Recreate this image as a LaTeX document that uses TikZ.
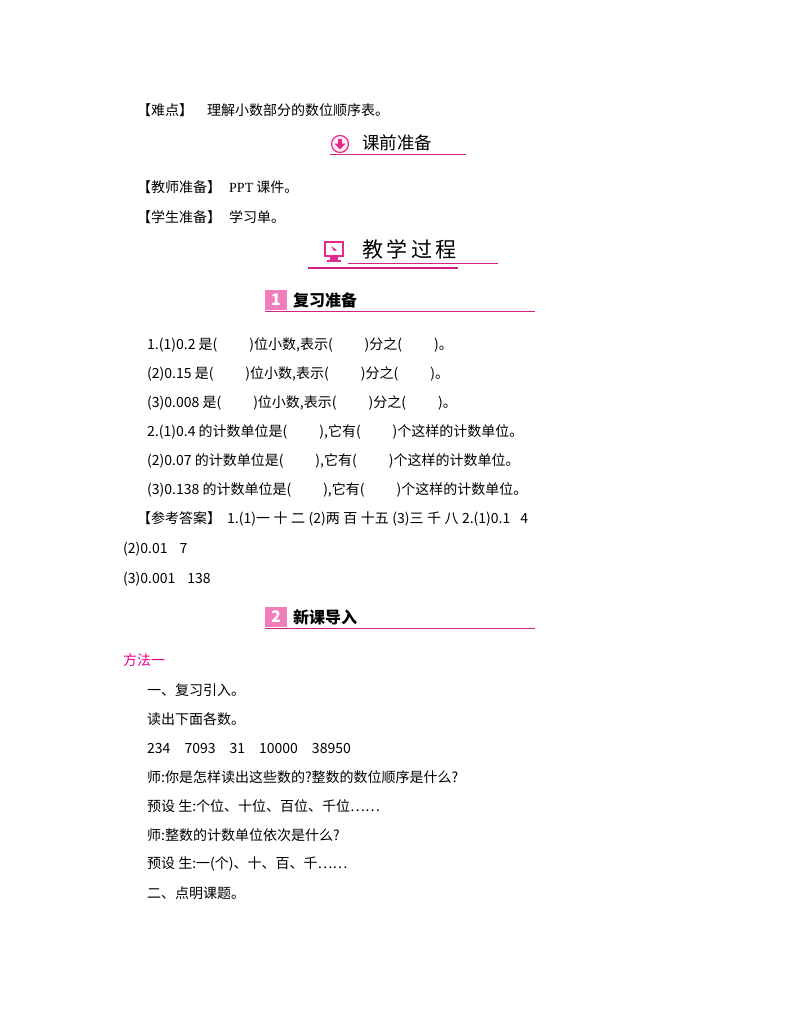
\documentclass[tikz,border=0pt]{standalone}
\usepackage{fontspec}
\setmainfont{Noto Sans CJK SC}
\newfontfamily\lat{Liberation Serif}
\begin{document}
\begin{tikzpicture}[x=1pt,y=-1pt,
  t/.style={anchor=west,inner sep=0pt,font=\fontsize{14}{16}\selectfont},
  hdr/.style={anchor=west,inner sep=0pt,font=\fontsize{17.5}{20}\selectfont},
  ul/.style={draw=magenta!70!violet,line width=1pt}]
\definecolor{pk}{RGB}{230,40,140}
\newcommand{\pp}{(\hspace{32pt})}
\newcommand{\sk}{\hspace{3.5pt}}
\useasboundingbox (0,0) rectangle (800,1028);
\node[t] (a0) at (137,110) {【难点】\hspace{14pt}理解小数部分的数位顺序表。};
% header 1
\node[draw=pk,line width=1.2pt,circle,minimum size=17pt,inner sep=0pt,fill=pink!30] (i1) at (340,144) {};
\node[fill=pk,inner sep=0pt,minimum width=4pt,minimum height=5pt] (i1a) at (340,141) {};
\fill[pk] (334.5,143.5) -- (345.5,143.5) -- (340,149.5) -- cycle;
\node[hdr] (h1) at (362,143) {课前准备};
\draw[ul] (330,154) -- (466,154);
\node[t] (b1) at (137,187) {【教师准备】\hspace{8pt}{\lat PPT} 课件。};
\node[t] (b2) at (137,217) {【学生准备】\hspace{8pt}学习单。};
% header 2
\draw[pk,line width=1.5pt,fill=white] (325,242) rectangle (343,256);
\fill[pk] (330,257) rectangle (338,260);
\fill[pk] (327,260) rectangle (341,262);
\fill[pk] (331,246) -- (337,250) -- (334,251) -- cycle;
\node[anchor=west,inner sep=0pt,font=\fontsize{21}{24}\selectfont] (h2) at (362,249) {教\,学\,过\,程};
\draw[ul,line width=0.8pt] (348,263) -- (498,263);
\draw[ul,line width=1.5pt] (308,268) -- (458,268);
% header 3
\fill[pk!60] (265,290) rectangle (287,310);
\node[inner sep=0pt,font=\fontsize{16}{18}\selectfont\bfseries\itshape,text=white] (n1) at (276,300) {1};
\node[hdr,font=\fontsize{16}{18}\selectfont\bfseries] (h3) at (293,300) {复习准备};
\draw[ul,line width=0.7pt] (265,311) -- (535,311);
\node[t] (q1) at (147,345) {1.(1)0.2 是\pp 位小数,表示\pp 分之\pp 。};
\node[t] (q2) at (147,374) {(2)0.15 是\pp 位小数,表示\pp 分之\pp 。};
\node[t] (q3) at (147,403) {(3)0.008 是\pp 位小数,表示\pp 分之\pp 。};
\node[t] (q4) at (147,432) {2.(1)0.4 的计数单位是\pp ,它有\pp 个这样的计数单位。};
\node[t] (q5) at (147,461) {(2)0.07 的计数单位是\pp ,它有\pp 个这样的计数单位。};
\node[t] (q6) at (147,490) {(3)0.138 的计数单位是\pp ,它有\pp 个这样的计数单位。};
\node[t] (q7) at (137,519) {【参考答案】\hspace{6pt}1.(1)一\sk 十\sk 二\sk (2)两\sk 百\sk 十五\sk (3)三\sk 千\sk 八\sk 2.(1)0.1\hspace{10pt}4};
\node[t] (q8) at (123,549) {(2)0.01\hspace{12pt}7};
\node[t] (q9) at (123,579) {(3)0.001\hspace{12pt}138};
% header 4
\fill[pk!60] (265,607) rectangle (287,627);
\node[inner sep=0pt,font=\fontsize{16}{18}\selectfont\bfseries\itshape,text=white] (n2) at (276,617) {2};
\node[hdr,font=\fontsize{16}{18}\selectfont\bfseries] (h4) at (293,617) {新课导入};
\draw[ul,line width=0.7pt] (265,628) -- (535,628);
\node[t,text=magenta] (m0) at (123,660) {方法一};
\node[t] (m1) at (147,690) {一、复习引入。};
\node[t] (m2) at (147,719) {读出下面各数。};
\node[t] (m3) at (147,748) {234\hspace{14pt}7093\hspace{14pt}31\hspace{14pt}10000\hspace{14pt}38950};
\node[t] (m4) at (147,777) {师:你是怎样读出这些数的?整数的数位顺序是什么?};
\node[t] (m5) at (147,806) {预设\ 生:个位、十位、百位、千位……};
\node[t] (m6) at (147,835) {师:整数的计数单位依次是什么?};
\node[t] (m7) at (147,864) {预设\ 生:一(个)、十、百、千……};
\node[t] (m8) at (147,893) {二、点明课题。};
\end{tikzpicture}
\end{document}
